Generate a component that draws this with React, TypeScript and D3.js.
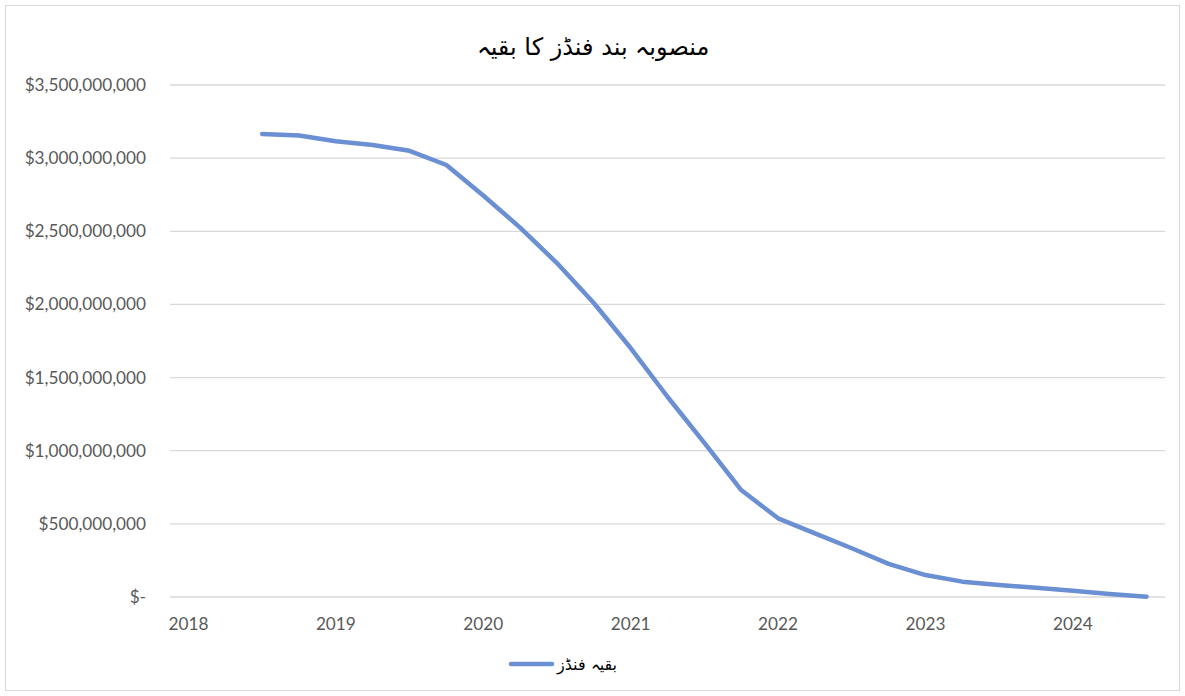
import React from "react";
import * as d3 from "d3";

const categories: string[] = [
  "2018Q1","2018Q2","2018Q3","2018Q4",
  "2019Q1","2019Q2","2019Q3","2019Q4",
  "2020Q1","2020Q2","2020Q3","2020Q4",
  "2021Q1","2021Q2","2021Q3","2021Q4",
  "2022Q1","2022Q2","2022Q3","2022Q4",
  "2023Q1","2023Q2","2023Q3","2023Q4",
  "2024Q1","2024Q2","2024Q3",
];
const seriesCategories: string[] = categories.slice(2);
const remainingFunds: number[] = [
  3.165e9, 3.155e9, 3.115e9, 3.09e9, 3.05e9, 2.953e9, 2.745e9, 2.525e9,
  2.283e9, 2.01e9, 1.702e9, 1.369e9, 1.053e9, 0.731e9, 0.538e9, 0.435e9,
  0.333e9, 0.226e9, 0.15e9, 0.105e9, 0.082e9, 0.063e9, 0.043e9, 0.02e9, 0.002e9,
];
const yTicks: number[] = [0, 5e8, 1e9, 1.5e9, 2e9, 2.5e9, 3e9, 3.5e9];
const title = "منصوبہ بند فنڈز کا بقیہ";
const seriesName = "بقیہ فنڈز";

const W = 1185, H = 696;
const plot = { left: 170, right: 1165, top: 85, bottom: 597 };

export default function App() {
  const x = d3.scalePoint<string>().domain(categories).range([plot.left, plot.right]).padding(0.5);
  const y = d3.scaleLinear().domain([0, 3.5e9]).range([plot.bottom, plot.top]);
  const line = d3.line<number>()
    .x((_, i) => x(seriesCategories[i]) as number)
    .y((d) => y(d));
  const fmt = (v: number) => (v === 0 ? "$-" : "$" + d3.format(",")(v));
  const labelFont = "Lato, 'Open Sans', sans-serif";
  return (
    <svg width={W} height={H} style={{ position: "absolute", left: 0, top: 0 }}>
      <rect x={0} y={0} width={W} height={H} fill="#fff" />
      <rect x={5.5} y={5.5} width={W - 11} height={H - 11} fill="none" stroke="#d9d9d9" strokeWidth={1} />
      <text x={593} y={55} textAnchor="middle" fontFamily="'DejaVu Sans', sans-serif" fontSize={24} fill="#000">
        {title}
      </text>
      {yTicks.map((t) => (
        <g key={t}>
          <line x1={plot.left} x2={plot.right} y1={y(t)} y2={y(t)} stroke="#d9d9d9" strokeWidth={1.3} />
          <text x={146} y={y(t) + 6} textAnchor="end" fontFamily={labelFont} fontSize={17.2} fill="#595959">
            {fmt(t)}
          </text>
        </g>
      ))}
      {categories.map((c, i) =>
        i % 4 === 0 ? (
          <text key={c} x={x(c)} y={630} textAnchor="middle" fontFamily={labelFont} fontSize={17.2} fill="#595959">
            {c.slice(0, 4)}
          </text>
        ) : null
      )}
      <path d={line(remainingFunds) || ""} fill="none" stroke="#6a8fd3" strokeWidth={4.5} strokeLinejoin="round" strokeLinecap="round" />
      <line x1={511} x2={552} y1={664} y2={664} stroke="#6a8fd3" strokeWidth={4.5} strokeLinecap="round" />
      <text x={617} y={670} textAnchor="end" fontFamily="'DejaVu Sans', sans-serif" fontSize={16} fill="#000">
        {seriesName}
      </text>
    </svg>
  );
}
